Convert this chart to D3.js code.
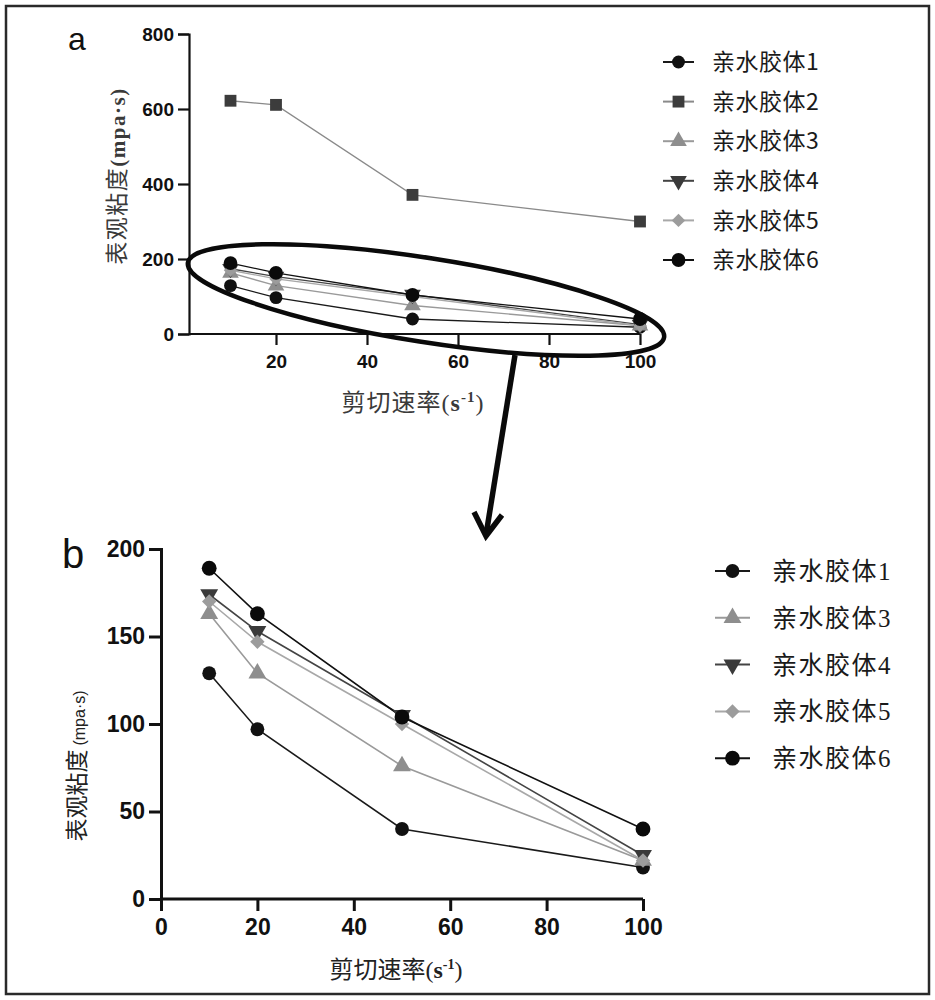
<!DOCTYPE html>
<html><head><meta charset="utf-8">
<script src="https://cdn.jsdelivr.net/npm/d3@7/dist/d3.min.js"></script>
<style>
html,body{margin:0;padding:0;background:#fff;}
svg{display:block;}
</style></head>
<body>
<script>
// ---- data ----
const shearRates = [10, 20, 50, 100];
const seriesNames = ["亲水胶体1","亲水胶体2","亲水胶体3","亲水胶体4","亲水胶体5","亲水胶体6"];
const colloid1 = [129, 97, 40, 18];
const colloid2 = [622, 611, 371, 300];
const colloid3 = [163, 129, 76, 22];
const colloid4 = [174, 153, 105, 25];
const colloid5 = [170, 147, 100, 22];
const colloid6 = [189, 163, 104, 40];
const yTicksA = [0, 200, 400, 600, 800];
const xTicksA = [20, 40, 60, 80, 100];
const yTicksB = [0, 50, 100, 150, 200];
const xTicksB = [0, 20, 40, 60, 80, 100];

const allSeries = [colloid1, colloid2, colloid3, colloid4, colloid5, colloid6];
const styles = [
  {sym: d3.symbolCircle, rot: 0, size: 130, fill: "#111", line: "#1a1a1a"},
  {sym: d3.symbolSquare, rot: 0, size: 140, fill: "#3c3c3c", line: "#8a8a8a"},
  {sym: d3.symbolTriangle, rot: 0, size: 120, fill: "#8e8e8e", line: "#9a9a9a"},
  {sym: d3.symbolTriangle, rot: 180, size: 120, fill: "#3a3a3a", line: "#444"},
  {sym: d3.symbolSquare, rot: 45, size: 90, fill: "#9c9c9c", line: "#a8a8a8"},
  {sym: d3.symbolCircle, rot: 0, size: 150, fill: "#0a0a0a", line: "#111"}
];

const W = 935, H = 1000;
const svg = d3.select("body").append("svg").attr("width", W).attr("height", H);
svg.append("rect").attr("width", W).attr("height", H).attr("fill", "#fff");
svg.append("rect").attr("x", 6).attr("y", 6).attr("width", 923).attr("height", 988)
  .attr("fill", "none").attr("stroke", "#2a2a2a").attr("stroke-width", 2.5);

const tickFontA = "'Liberation Sans Narrow','Liberation Sans',Arial,sans-serif";
const serifCJK = "'Liberation Serif','Noto Sans CJK SC',serif";
const sansCJK = "'Noto Sans CJK SC','Noto Sans',sans-serif";

function drawPanel(cfg) {
  const g = svg.append("g");
  const x = d3.scaleLinear().domain([0, 100]).range(cfg.xr);
  const y = d3.scaleLinear().domain(cfg.yd).range(cfg.yr);

  const yAxis = d3.axisLeft(y).tickValues(cfg.yTicks).tickSize(cfg.tickLen).tickPadding(4).tickFormat(d3.format("d"));
  const gy = g.append("g").attr("transform", `translate(${cfg.yAxisX},0)`).call(yAxis);
  const xAxis = d3.axisBottom(x).tickValues(cfg.xTicks).tickSize(cfg.tickLen).tickPadding(cfg.xPad).tickFormat(d3.format("d"));
  const gx = g.append("g").attr("transform", `translate(0,${cfg.yr[0]})`).call(xAxis);
  gx.select(".domain").attr("d", `M${cfg.yAxisX},0H${cfg.xr[1]}`);
  [gx, gy].forEach(a => {
    a.select(".domain").attr("stroke", "#111").attr("stroke-width", cfg.axisW);
    a.selectAll(".tick line").attr("stroke", "#111").attr("stroke-width", cfg.axisW);
    a.selectAll(".tick text").attr("fill", "#111").attr("font-family", cfg.tickFont)
      .attr("font-weight", "bold").attr("font-size", cfg.tickSize);
  });

  const line = d3.line().x((d, i) => x(shearRates[i])).y(d => y(d));
  cfg.which.forEach(k => {
    const s = styles[k];
    g.append("path").datum(allSeries[k]).attr("d", line).attr("fill", "none")
      .attr("stroke", s.line).attr("stroke-width", cfg.lineW);
  });
  cfg.which.forEach(k => {
    const s = styles[k];
    g.selectAll(null).data(allSeries[k]).enter().append("path")
      .attr("d", d3.symbol().type(s.sym).size(s.size * cfg.mk))
      .attr("transform", (d, i) => `translate(${x(shearRates[i])},${y(d)}) rotate(${s.rot})`)
      .attr("fill", s.fill);
  });

  cfg.which.forEach((k, j) => {
    const s = styles[k];
    const ly = cfg.leg.y0 + j * cfg.leg.dy;
    g.append("line").attr("x1", cfg.leg.x0).attr("x2", cfg.leg.x1).attr("y1", ly).attr("y2", ly)
      .attr("stroke", s.line).attr("stroke-width", 2);
    const mx = (cfg.leg.x0 + cfg.leg.x1) / 2;
    g.append("path").attr("d", d3.symbol().type(s.sym).size(s.size * cfg.mk))
      .attr("transform", `translate(${mx},${ly}) rotate(${s.rot})`).attr("fill", s.fill);
    g.append("text").attr("x", cfg.leg.tx).attr("y", ly).attr("dy", "0.36em")
      .attr("font-family", cfg.leg.font).attr("font-size", cfg.leg.size).attr("fill", "#1a1a1a")
      .attr("letter-spacing", cfg.leg.ls)
      .text(seriesNames[k]);
  });
  return {g, x, y};
}

// ---- panel a ----
drawPanel({
  xr: [185, 640], yd: [0, 800], yr: [334, 34], yAxisX: 189,
  yTicks: yTicksA, xTicks: xTicksA, tickLen: 11, xPad: 10, axisW: 2.2,
  tickFont: tickFontA, tickSize: 19, lineW: 1.3, mk: 1.0,
  which: [0, 1, 2, 3, 4, 5],
  leg: {x0: 663, x1: 694, tx: 712, y0: 62, dy: 39.6, font: sansCJK, size: 23, ls: 0.5}
});
svg.append("text").attr("x", 68).attr("y", 50).attr("font-family", "'Liberation Sans',Arial,sans-serif")
  .attr("font-size", 32).attr("fill", "#111").text("a");
const ytA = svg.append("text").attr("transform", "translate(125,176) rotate(-90)").attr("text-anchor", "middle")
  .attr("font-family", serifCJK).attr("font-size", 23).attr("fill", "#3a3a3a").attr("letter-spacing", 1.5);
ytA.append("tspan").text("表观粘度");
ytA.append("tspan").attr("font-weight", "bold").attr("font-size", 21).text("(mpa·s)");
const xtA = svg.append("text").attr("x", 413).attr("y", 411).attr("text-anchor", "middle")
  .attr("font-family", serifCJK).attr("font-size", 24).attr("fill", "#3a3a3a").attr("letter-spacing", 1);
xtA.append("tspan").text("剪切速率(");
xtA.append("tspan").attr("font-weight", "bold").text("s");
xtA.append("tspan").attr("dy", -9).attr("font-size", 15).attr("font-weight", "bold").text("-1");
xtA.append("tspan").attr("dy", 9).text(")");

// ellipse highlight
svg.append("ellipse").attr("cx", 0).attr("cy", 0).attr("rx", 241).attr("ry", 42)
  .attr("transform", "translate(426,300) rotate(8.9)")
  .attr("fill", "none").attr("stroke", "#0a0a0a").attr("stroke-width", 4.5);
// arrow
svg.append("path").attr("d", "M515,355 L486,535").attr("stroke", "#0a0a0a").attr("stroke-width", 5.5).attr("fill", "none");
svg.append("path").attr("d", "M474,512 L486,536 L502,515").attr("stroke", "#0a0a0a").attr("stroke-width", 5.5)
  .attr("fill", "none").attr("stroke-linejoin", "miter");

// ---- panel b ----
drawPanel({
  xr: [161, 643], yd: [0, 200], yr: [899, 549], yAxisX: 161,
  yTicks: yTicksB, xTicks: xTicksB, tickLen: 12, xPad: 8, axisW: 3,
  tickFont: "'Liberation Sans',Arial,sans-serif", tickSize: 23, lineW: 1.6, mk: 1.15,
  which: [0, 2, 3, 4, 5],
  leg: {x0: 715, x1: 750, tx: 772, y0: 571, dy: 46.8, font: serifCJK, size: 25, ls: 1.5}
});
svg.append("text").attr("x", 62).attr("y", 568).attr("font-family", "'Liberation Sans',Arial,sans-serif")
  .attr("font-size", 40).attr("fill", "#111").text("b");
const ytB = svg.append("text").attr("transform", "translate(85,766) rotate(-90)").attr("text-anchor", "middle")
  .attr("font-family", sansCJK).attr("font-size", 23).attr("fill", "#222");
ytB.append("tspan").text("表观粘度");
ytB.append("tspan").attr("font-family", "'Liberation Sans',Arial,sans-serif").attr("font-size", 16).attr("dx", 4).text("(mpa·s)");
const xtB = svg.append("text").attr("x", 396).attr("y", 978).attr("text-anchor", "middle")
  .attr("font-family", sansCJK).attr("font-size", 24).attr("fill", "#222");
xtB.append("tspan").text("剪切速率");
xtB.append("tspan").attr("font-family", serifCJK).text("(");
xtB.append("tspan").attr("font-family", serifCJK).attr("font-weight", "bold").text("s");
xtB.append("tspan").attr("font-family", serifCJK).attr("dy", -9).attr("font-size", 14).attr("font-weight", "bold").text("-1");
xtB.append("tspan").attr("font-family", serifCJK).attr("dy", 9).text(")");
</script>
</body></html>
